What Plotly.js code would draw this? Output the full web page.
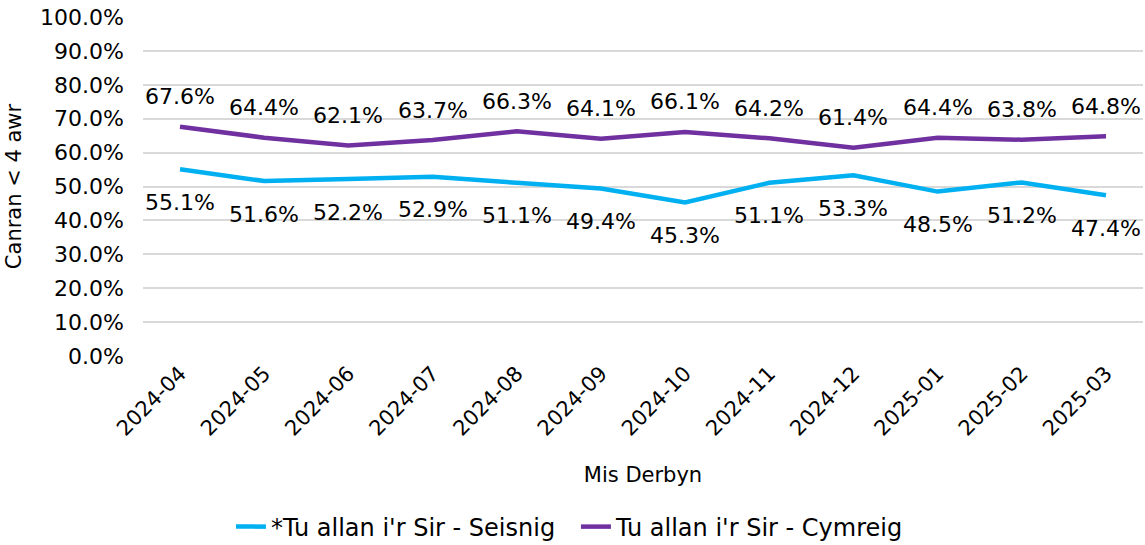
<!DOCTYPE html>
<html>
<head>
<meta charset="utf-8">
<script src="https://cdn.plot.ly/plotly-3.0.1.min.js"></script>
<style>html,body{margin:0;padding:0;background:#fff}#chart{width:1145px;height:545px}</style>
</head>
<body>
<div id="chart"></div>
<script>
const months = ["2024-04","2024-05","2024-06","2024-07","2024-08","2024-09","2024-10","2024-11","2024-12","2025-01","2025-02","2025-03"];
const seisnig = [55.1,51.6,52.2,52.9,51.1,49.4,45.3,51.1,53.3,48.5,51.2,47.4];
const cymreig = [67.6,64.4,62.1,63.7,66.3,64.1,66.1,64.2,61.4,64.4,63.8,64.8];
const nameSeisnig = "*Tu allan i'r Sir - Seisnig";
const nameCymreig = "Tu allan i'r Sir - Cymreig";

const font = "DejaVu Sans, Verdana, sans-serif";
const blue = "#00B0F0";
const purple = "#7030A0";

const traces = [
  {x: months, y: seisnig, type: "scatter", mode: "lines", name: nameSeisnig,
   line: {color: blue, width: 4.5}, hoverinfo: "skip"},
  {x: months, y: cymreig, type: "scatter", mode: "lines", name: nameCymreig,
   line: {color: purple, width: 4.5}, hoverinfo: "skip"}
];

const annotations = [];
months.forEach((m, i) => {
  annotations.push({x: m, y: cymreig[i], text: cymreig[i].toFixed(1) + "%", showarrow: false,
    yshift: 30, font: {family: font, size: 22, color: "#000"}});
  annotations.push({x: m, y: seisnig[i], text: seisnig[i].toFixed(1) + "%", showarrow: false,
    yshift: -33, font: {family: font, size: 22, color: "#000"}});
});

const layout = {
  width: 1145, height: 545,
  margin: {l: 143, r: 2, t: 17, b: 189},
  paper_bgcolor: "#fff", plot_bgcolor: "#fff",
  font: {family: font, size: 21, color: "#000"},
  showlegend: true,
  legend: {orientation: "h", xref: "container", x: 0.503, xanchor: "center", yref: "container", y: 0.033, yanchor: "middle",
    font: {family: font, size: 24, color: "#000"}, tracegroupgap: 0, entrywidth: 300},
  xaxis: {type: "category", tickangle: -45, showgrid: false, zeroline: false, automargin: false,
    showline: false, ticks: "", tickfont: {family: font, size: 21},
    title: {text: "Mis Derbyn", font: {family: font, size: 21}, standoff: 27}},
  yaxis: {range: [0, 100], dtick: 10, tickformat: ".1f", ticksuffix: "%", automargin: false,
    gridcolor: "#D9D9D9", gridwidth: 2, zeroline: false, showline: false,
    tickfont: {family: font, size: 22}, ticklabelstandoff: 18,
    title: {text: "Canran < 4 awr", font: {family: font, size: 21}, standoff: 12}},
  annotations: annotations
};

Plotly.newPlot("chart", traces, layout, {displayModeBar: false, staticPlot: true});
</script>
</body>
</html>
